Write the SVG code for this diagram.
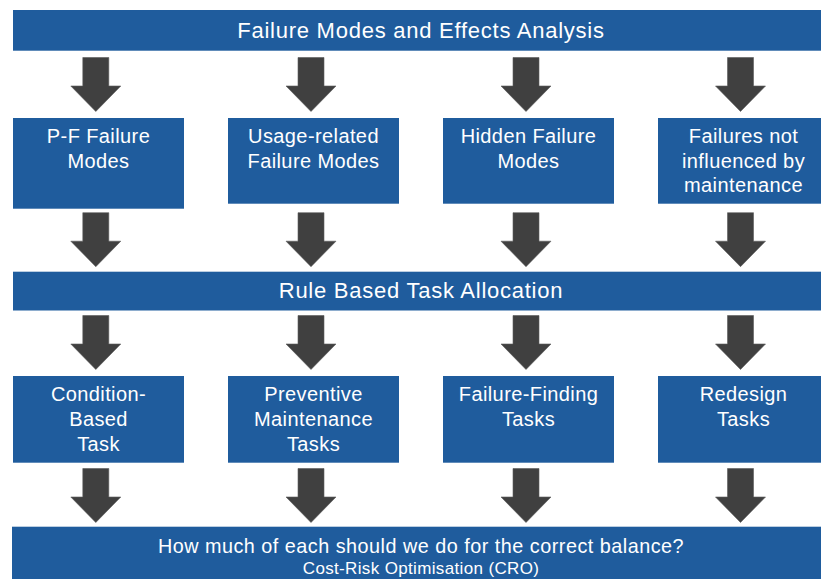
<svg xmlns="http://www.w3.org/2000/svg" width="821" height="579" viewBox="0 0 821 579">
<defs>
<style>
.bar{fill:#1f5c9d}
.box{fill:#1f5c9d}
.t{font-family:"Liberation Sans",Arial,sans-serif;fill:#ffffff;text-anchor:middle}
.big{font-size:22px;letter-spacing:0.75px}
.mid{font-size:20px;letter-spacing:0.4px}
.q{font-size:19.8px;letter-spacing:0.5px}
.small{font-size:17px;letter-spacing:0.35px}
.arr{fill:#404040;stroke:#5a5a5a;stroke-width:0.6}
</style>
<path id="a" d="M-13,0 H13 V28.5 H25 L0,54 L-25,28.5 H-13 Z"/>
</defs>
<rect width="821" height="579" fill="#ffffff"/>

<g id="fmea">
<rect class="bar" x="13" y="10" width="816" height="40.7"/>
<text class="t big" x="421" y="37.5">Failure Modes and Effects Analysis</text>
</g>

<g id="pf-modes">
<rect class="box" x="13" y="118" width="171" height="90.7"/>
<text class="t mid" x="98.5" y="143.3">P-F Failure</text>
<text class="t mid" x="98.5" y="168.3">Modes</text>
</g>
<g id="usage-modes">
<rect class="box" x="228" y="118" width="171" height="85.7"/>
<text class="t mid" x="313.5" y="143.3">Usage-related</text>
<text class="t mid" x="313.5" y="168.3">Failure Modes</text>
</g>
<g id="hidden-modes">
<rect class="box" x="443" y="118" width="171" height="85.7"/>
<text class="t mid" x="528.5" y="143.3">Hidden Failure</text>
<text class="t mid" x="528.5" y="168.3">Modes</text>
</g>
<g id="not-influenced">
<rect class="box" x="658" y="118" width="171" height="85.7"/>
<text class="t mid" x="743.5" y="142.8">Failures not</text>
<text class="t mid" x="743.5" y="167.5">influenced by</text>
<text class="t mid" x="743.5" y="192.3">maintenance</text>
</g>

<g id="rule-based">
<rect class="bar" x="13" y="271.7" width="816" height="38.8"/>
<text class="t big" x="421" y="298.3">Rule Based Task Allocation</text>
</g>

<g id="condition-based">
<rect class="box" x="13" y="376" width="171" height="86.7"/>
<text class="t mid" x="98.5" y="400.7">Condition-</text>
<text class="t mid" x="98.5" y="425.7">Based</text>
<text class="t mid" x="98.5" y="450.7">Task</text>
</g>
<g id="preventive">
<rect class="box" x="228" y="376" width="171" height="86.7"/>
<text class="t mid" x="313.5" y="400.7">Preventive</text>
<text class="t mid" x="313.5" y="425.7">Maintenance</text>
<text class="t mid" x="313.5" y="450.7">Tasks</text>
</g>
<g id="failure-finding">
<rect class="box" x="443" y="376" width="171" height="86.7"/>
<text class="t mid" x="528.5" y="400.7">Failure-Finding</text>
<text class="t mid" x="528.5" y="425.7">Tasks</text>
</g>
<g id="redesign">
<rect class="box" x="658" y="376" width="171" height="86.7"/>
<text class="t mid" x="743.5" y="400.7">Redesign</text>
<text class="t mid" x="743.5" y="425.7">Tasks</text>
</g>

<g id="cro">
<rect class="bar" x="12" y="526.7" width="817" height="60"/>
<text class="t q" x="421" y="553">How much of each should we do for the correct balance?</text>
<text class="t small" x="421" y="574">Cost-Risk Optimisation (CRO)</text>
</g>

<g id="connectors">
<use href="#a" class="arr" x="95.8" y="57.5"/>
<use href="#a" class="arr" x="311" y="57.5"/>
<use href="#a" class="arr" x="526" y="57.5"/>
<use href="#a" class="arr" x="740.5" y="57.5"/>
<use href="#a" class="arr" x="95.8" y="212.7"/>
<use href="#a" class="arr" x="311" y="212.7"/>
<use href="#a" class="arr" x="526" y="212.7"/>
<use href="#a" class="arr" x="740.5" y="212.7"/>
<use href="#a" class="arr" x="95.8" y="315.5"/>
<use href="#a" class="arr" x="311" y="315.5"/>
<use href="#a" class="arr" x="526" y="315.5"/>
<use href="#a" class="arr" x="740.5" y="315.5"/>
<use href="#a" class="arr" x="95.8" y="468.5"/>
<use href="#a" class="arr" x="311" y="468.5"/>
<use href="#a" class="arr" x="526" y="468.5"/>
<use href="#a" class="arr" x="740.5" y="468.5"/>
</g>
</svg>
